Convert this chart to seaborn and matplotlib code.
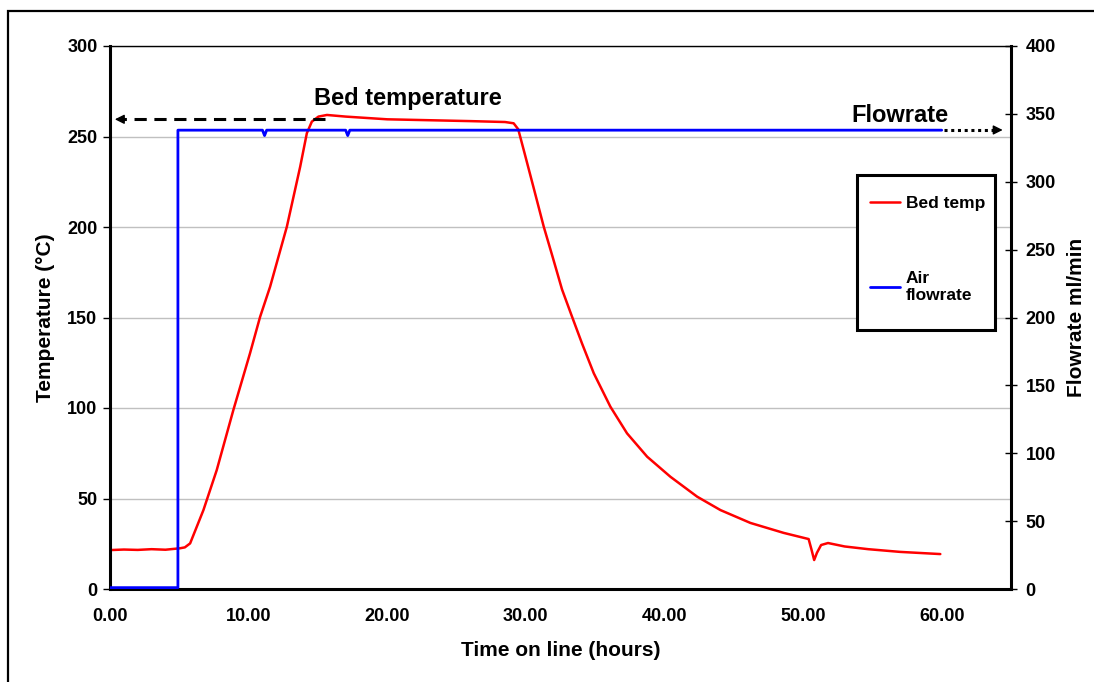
import numpy as np
import pandas as pd
import matplotlib
matplotlib.use("Agg")
import matplotlib.pyplot as plt
from matplotlib.patches import Rectangle
import seaborn as sns

# Bed temperature trace (hours, degC)
bed_time = [0.0, 1.0, 2.0, 3.0, 4.0, 5.05, 5.4, 5.78, 6.74, 7.7, 8.9, 10.1,
            10.83, 11.55, 12.76, 13.72, 14.2, 14.56, 15.04, 15.65, 17.0, 20.0,
            23.0, 26.0, 28.5, 29.12, 29.45, 29.9, 30.55, 31.29, 31.95,
            32.61, 33.33, 34.05, 34.9, 36.1, 37.3, 38.75, 40.43, 42.36, 44.04,
            46.2, 48.6, 50.4, 50.6, 50.8, 51.0, 51.3, 51.8, 53.0, 54.7, 57.0,
            59.9]
bed_temp = [21.5, 21.8, 21.6, 22.0, 21.7, 22.5, 23.0, 25.2, 43.6, 65.7, 98.9,
            130.2, 150.4, 167, 200.2, 233.3, 251.8, 258.2, 261, 261.9, 261,
            259.5, 259, 258.5, 258, 257.3, 254, 241, 222, 200.2, 183,
            165.5, 150.5, 135.7, 119.2, 100.7, 86.0, 73.1, 62.0, 51.0,
            43.6, 36.5, 31, 27.6, 22, 16, 20, 24.3, 25.4, 23.5, 22, 20.5, 19.3]

# Air flowrate trace (hours, ml/min)
air_time = [0.0, 4.9, 4.9, 11.0, 11.15, 11.3, 17.0, 17.15, 17.3, 60.0]
air_flow = [1, 1, 338, 338, 334, 338, 338, 334, 338, 338]

temp_ticks = [0, 50, 100, 150, 200, 250, 300]
flow_ticks = [0, 50, 100, 150, 200, 250, 300, 350, 400]
time_ticks = [0, 10, 20, 30, 40, 50, 60]

bed = pd.DataFrame({"time": bed_time, "temp": bed_temp})
air = pd.DataFrame({"time": air_time, "flow": air_flow})

sns.set_style("white")
plt.rcParams["font.family"] = ["Liberation Sans", "DejaVu Sans"]
plt.rcParams["font.weight"] = "bold"
plt.rcParams["text.color"] = "black"
plt.rcParams["axes.labelcolor"] = "black"
plt.rcParams["xtick.color"] = "black"
plt.rcParams["ytick.color"] = "black"

fig = plt.figure(figsize=(10.94, 6.82), dpi=100)
ax = fig.add_axes([110 / 1094, 1 - 589 / 682, (1011 - 110) / 1094, (589 - 46) / 682])
ax2 = ax.twinx()

for t in temp_ticks[1:]:
    ax.axhline(t, color="#c0c0c0", lw=1, zorder=0)

sns.lineplot(data=bed, x="time", y="temp", ax=ax, color="#ff0000", lw=1.8,
             sort=False, estimator=None, label="Bed temp", legend=False)
sns.lineplot(data=air, x="time", y="flow", ax=ax2, color="#0000ff", lw=2.0,
             sort=False, estimator=None, label="Air\nflowrate", legend=False)

ax.set_xlim(0, 65)
ax.set_ylim(0, 300)
ax2.set_ylim(0, 400)
ax.set_xticks(time_ticks)
ax.set_xticklabels([f"{t:.2f}" for t in time_ticks])
ax.set_yticks(temp_ticks)
ax2.set_yticks(flow_ticks)

ax.set_xlabel("Time on line (hours)", fontsize=15, fontweight="bold", labelpad=11)
ax.set_ylabel("Temperature (°C)", fontsize=15, fontweight="bold", labelpad=9)
ax2.set_ylabel("Flowrate ml/min", fontsize=15, fontweight="bold", labelpad=8)

ax.tick_params(axis="x", direction="out", length=5, width=1, colors="black",
               color="#555555", labelsize=13, pad=9)
ax.tick_params(axis="y", direction="out", length=5, width=1, colors="black",
               labelsize=13, pad=4)
ax2.tick_params(axis="y", direction="inout", length=9, width=1, colors="black",
                labelsize=13, pad=6)
for lab in ax.get_xticklabels() + ax.get_yticklabels() + ax2.get_yticklabels():
    lab.set_fontweight("bold")

for name, sp in ax.spines.items():
    sp.set_color("black")
ax.spines["left"].set_linewidth(2.2)
ax.spines["bottom"].set_linewidth(2.2)
ax.spines["top"].set_linewidth(1.0)
ax.spines["right"].set_visible(False)
for name in ["left", "top", "bottom"]:
    ax2.spines[name].set_visible(False)
ax2.spines["right"].set_linewidth(2.2)
ax2.spines["right"].set_color("black")

# annotations
ax.text(21.5, 271, "Bed temperature", fontsize=17, fontweight="bold",
        ha="center", va="center")
ax.plot([15.5, 0.8], [259.5, 259.5], color="black", lw=2.2, ls=(0, (4, 2.5)))
ax.annotate("", xy=(0.15, 259.5), xytext=(1.0, 259.5),
            arrowprops=dict(arrowstyle="-|>", color="black", lw=1,
                            mutation_scale=14))
ax.text(57.0, 261.5, "Flowrate", fontsize=17, fontweight="bold",
        ha="center", va="center")
ax.plot([60.2, 63.8], [253.6, 253.6], color="black", lw=2.2, ls=(0, (1, 1.2)))
ax.annotate("", xy=(64.6, 253.6), xytext=(63.7, 253.6),
            arrowprops=dict(arrowstyle="-|>", color="black", lw=1,
                            mutation_scale=14))

# legend box (frame drawn separately so it can be taller than the entries)
ax2.add_patch(Rectangle((0.829, 0.477), 0.982 - 0.829, 0.762 - 0.477,
                        transform=ax2.transAxes, facecolor="white",
                        edgecolor="black", lw=2.2, zorder=4, clip_on=False))
h1, l1 = ax.get_legend_handles_labels()
h2, l2 = ax2.get_legend_handles_labels()
leg = ax2.legend(h1 + h2, l1 + l2, loc="upper left",
                 bbox_to_anchor=(0.8435, 0.724), borderaxespad=0,
                 frameon=False, borderpad=0, labelspacing=3.45,
                 handlelength=1.7, handletextpad=0.35,
                 prop={"weight": "bold", "size": 12.5})
leg.set_zorder(5)

fig.patches.append(Rectangle((8 / 1094, -0.1), 1.2, 1.1 - 11 / 682,
                             transform=fig.transFigure, fill=False,
                             lw=1.6, ec="black"))

fig.savefig("out.png", dpi=100)
